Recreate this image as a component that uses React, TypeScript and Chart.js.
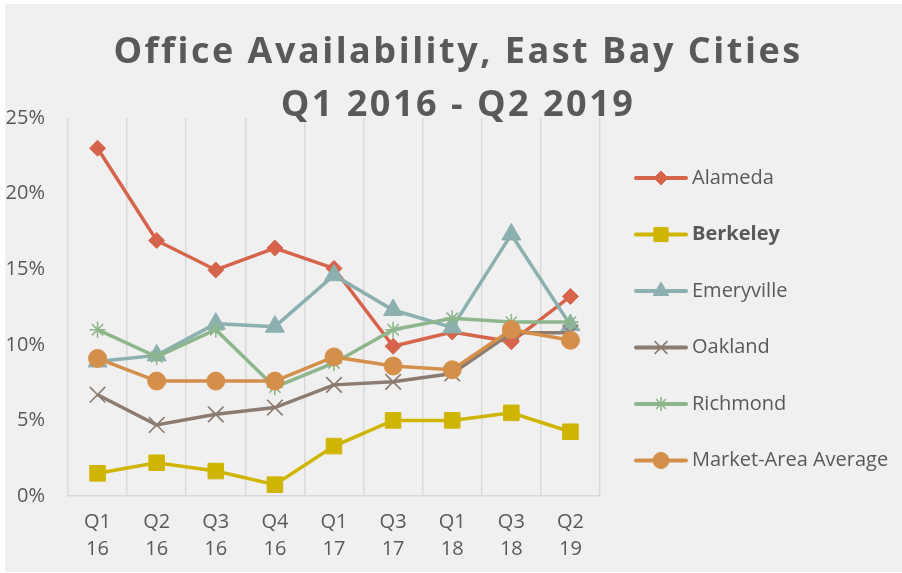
import React, { useEffect, useRef } from "react";
import { Chart, registerables } from "chart.js";
import { drawPoint } from "chart.js/helpers";

Chart.register(...registerables);

const categories: string[][] = [
  ["Q1", "16"], ["Q2", "16"], ["Q3", "16"], ["Q4", "16"], ["Q1", "17"],
  ["Q3", "17"], ["Q1", "18"], ["Q3", "18"], ["Q2", "19"],
];

const alameda = [23.0, 16.9, 14.95, 16.4, 15.05, 9.9, 10.85, 10.2, 13.2];
const berkeley = [1.5, 2.2, 1.65, 0.75, 3.3, 5.0, 5.0, 5.5, 4.25];
const emeryville = [8.9, 9.3, 11.4, 11.2, 14.6, 12.3, 11.15, 17.3, 11.3];
const oakland = [6.7, 4.7, 5.4, 5.85, 7.35, 7.55, 8.1, 10.8, 10.8];
const richmond = [11.0, 9.2, 11.0, 7.2, 8.8, 11.0, 11.75, 11.5, 11.5];
const marketAverage = [9.1, 7.6, 7.6, 7.6, 9.2, 8.6, 8.35, 11.0, 10.3];

const yTicks = [0, 5, 10, 15, 20, 25];
const titleLines = ["Office Availability, East Bay Cities", "Q1 2016 - Q2 2019"];

const seriesNames = ["Alameda", "Berkeley", "Emeryville", "Oakland", "Richmond", "Market-Area Average"];
const seriesData = [alameda, berkeley, emeryville, oakland, richmond, marketAverage];
const seriesColors = ["#D5644A", "#CFB500", "#8CAFAF", "#8C7B70", "#8DB68C", "#D4904A"];
const seriesStyles = ["rectRot", "rect", "triangle", "crossRot", "star", "circle"];
const seriesRadius = [8, 11, 11, 11, 8, 9];
const legendRadius = [7, 10, 9, 9, 7, 8];
const seriesPointBorder = [1, 1, 1, 1.6, 1.6, 1];
const boldLegend = [false, true, false, false, false, false];

const TEXT = "#595959";
const FONT = "'Open Sans', 'Liberation Sans', sans-serif";

const titlePlugin = {
  id: "customTitle",
  afterDraw(chart: any) {
    const ctx = chart.ctx as CanvasRenderingContext2D;
    ctx.save();
    ctx.fillStyle = TEXT;
    ctx.font = `bold 36px ${FONT}`;
    (ctx as any).letterSpacing = "2.5px";
    ctx.textAlign = "center";
    ctx.textBaseline = "alphabetic";
    ctx.fillText(titleLines[0], 453, 59);
    ctx.fillText(titleLines[1], 453, 112);
    ctx.restore();
  },
};

const legendPlugin = {
  id: "customLegend",
  afterDraw(chart: any) {
    const ctx = chart.ctx as CanvasRenderingContext2D;
    ctx.save();
    seriesNames.forEach((name, i) => {
      const y = 174 + i * 56.5;
      ctx.strokeStyle = seriesColors[i];
      ctx.fillStyle = seriesColors[i];
      ctx.lineWidth = 4;
      ctx.lineCap = "round";
      ctx.beginPath();
      ctx.moveTo(631, y);
      ctx.lineTo(681, y);
      ctx.stroke();
      ctx.lineCap = "butt";
      ctx.lineWidth = seriesPointBorder[i];
      drawPoint(ctx, {
        pointStyle: seriesStyles[i] as any,
        radius: legendRadius[i],
        rotation: 0,
        borderWidth: seriesPointBorder[i],
      } as any, 656, y);
      ctx.fillStyle = TEXT;
      ctx.font = `${boldLegend[i] ? "bold " : ""}20px ${FONT}`;
      ctx.textAlign = "left";
      ctx.textBaseline = "middle";
      ctx.fillText(name, 687, y);
    });
    ctx.restore();
  },
};

export default function App() {
  const ref = useRef<HTMLCanvasElement | null>(null);

  useEffect(() => {
    if (!ref.current) return;
    const chart = new Chart(ref.current, {
      type: "line",
      data: {
        labels: categories,
        datasets: seriesNames.map((name, i) => ({
          label: name,
          data: seriesData[i],
          borderColor: seriesColors[i],
          backgroundColor: seriesColors[i],
          borderWidth: 3.5,
          pointStyle: seriesStyles[i] as any,
          pointRadius: seriesRadius[i],
          pointBorderWidth: seriesPointBorder[i],
          pointBackgroundColor: seriesColors[i],
          pointBorderColor: seriesColors[i],
          tension: 0,
          order: seriesNames.length - 1 - i,
        })),
      },
      options: {
        responsive: false,
        animation: false,
        layout: { padding: { top: 114, right: 302, bottom: 0, left: 0 } },
        plugins: {
          legend: { display: false },
          title: { display: false },
          tooltip: { enabled: false },
        },
        scales: {
          x: {
            offset: true,
            grid: { display: true, offset: true, color: "#D9D9D9", lineWidth: 1.5, drawTicks: false },
            border: { display: true, color: "#D9D9D9", width: 1.5 },
            ticks: {
              color: TEXT,
              font: { family: FONT, size: 20, lineHeight: 1.35 },
              padding: 12.5,
              maxRotation: 0,
              autoSkip: false,
            },
            afterFit(scale: any) {
              scale.height = 76;
            },
          },
          y: {
            min: 0,
            max: 25,
            afterBuildTicks(scale: any) {
              scale.ticks = yTicks.map((v) => ({ value: v }));
            },
            grid: { display: false, drawTicks: false },
            border: { display: false },
            ticks: {
              color: TEXT,
              font: { family: FONT, size: 20 },
              padding: 23,
              callback: (v: any) => `${v}%`,
            },
            afterFit(scale: any) {
              scale.width = 63;
            },
          },
        },
      },
      plugins: [titlePlugin, legendPlugin],
    });
    return () => chart.destroy();
  }, []);

  return (
    <div
      style={{
        position: "fixed",
        left: 5,
        top: 4,
        width: 897,
        height: 568,
        background: "#F0F0F0",
      }}
    >
      <canvas ref={ref} width={897} height={568} style={{ display: "block" }} />
    </div>
  );
}
